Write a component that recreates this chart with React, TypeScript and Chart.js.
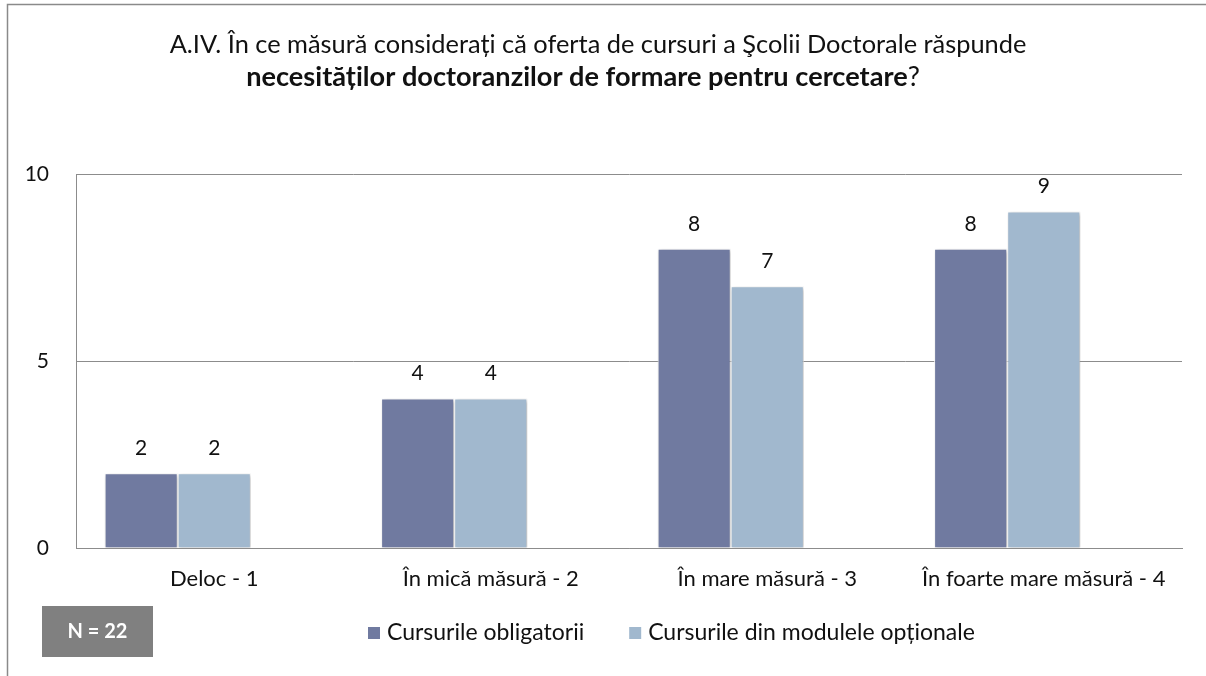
import React, { useEffect, useRef } from 'react';
import { Chart, registerables } from 'chart.js';

Chart.register(...registerables);

const categories = ['Deloc - 1', 'În mică măsură - 2', 'În mare măsură - 3', 'În foarte mare măsură - 4'];
const seriesNames = ['Cursurile obligatorii', 'Cursurile din modulele opționale'];
const obligatorii = [2, 4, 8, 8];
const optionale = [2, 4, 7, 9];
const emptySlot = [null, null, null, null];
const yTicks = [0, 5, 10];
const titleLine1 = 'A.IV. În ce măsură considerați că oferta de cursuri a Şcolii Doctorale răspunde';
const titleLine2Bold = 'necesităților doctoranzilor de formare pentru cercetare';
const titleLine2End = '?';
const noteText = 'N = 22';

const FONT = 'Lato, "Open Sans", sans-serif';
const DARK = '#707AA0';
const LIGHT = '#A1B8CE';
const GRID = '#8C8C8C';

const decorPlugin = {
  id: 'decor',
  beforeDraw(chart: any) {
    const ctx = chart.ctx;
    ctx.save();
    ctx.fillStyle = '#ffffff';
    ctx.fillRect(0, 0, chart.width, chart.height);
    ctx.strokeStyle = '#8A8A8A';
    ctx.lineWidth = 1.5;
    ctx.strokeRect(7.5, 4.5, chart.width + 20, chart.height + 20);
    ctx.restore();
  },
  beforeDatasetDraw(chart: any) {
    const ctx = chart.ctx;
    ctx.save();
    ctx.shadowColor = 'rgba(0,0,0,0.28)';
    ctx.shadowBlur = 4;
    ctx.shadowOffsetX = 1.5;
    ctx.shadowOffsetY = 1.5;
  },
  afterDatasetDraw(chart: any) {
    chart.ctx.restore();
  },
  afterDatasetsDraw(chart: any) {
    const ctx = chart.ctx;
    ctx.save();
    ctx.fillStyle = '#111';
    ctx.font = `21px ${FONT}`;
    ctx.textAlign = 'center';
    ctx.textBaseline = 'middle';
    chart.data.datasets.forEach((ds: any, i: number) => {
      if (!ds.label) return;
      const meta = chart.getDatasetMeta(i);
      meta.data.forEach((el: any, j: number) => {
        if (ds.data[j] == null) return;
        ctx.fillText(String(ds.data[j]), el.x, el.y - 25);
      });
    });
    ctx.restore();
  },
  afterDraw(chart: any) {
    const ctx = chart.ctx;
    ctx.save();
    ctx.fillStyle = '#111';
    ctx.textBaseline = 'alphabetic';
    ctx.font = `24px ${FONT}`;
    const w0 = ctx.measureText(titleLine1).width;
    const size = (24 * 857) / w0;
    ctx.font = `${size}px ${FONT}`;
    ctx.textAlign = 'center';
    ctx.fillText(titleLine1, 598, 53);
    ctx.textAlign = 'left';
    ctx.font = `bold 24px ${FONT}`;
    const wb0 = ctx.measureText(titleLine2Bold).width;
    ctx.font = `24px ${FONT}`;
    const we0 = ctx.measureText(titleLine2End).width;
    const size2 = (24 * 674) / (wb0 + we0);
    ctx.font = `bold ${size2}px ${FONT}`;
    const wb = ctx.measureText(titleLine2Bold).width;
    ctx.font = `${size2}px ${FONT}`;
    const we = ctx.measureText(titleLine2End).width;
    const x2 = 583 - (wb + we) / 2;
    ctx.font = `bold ${size2}px ${FONT}`;
    ctx.fillText(titleLine2Bold, x2, 86);
    ctx.font = `${size2}px ${FONT}`;
    ctx.fillText(titleLine2End, x2 + wb, 86);

    ctx.fillStyle = '#808080';
    ctx.fillRect(42, 606, 111, 51);
    ctx.fillStyle = '#ffffff';
    ctx.font = `bold 20px ${FONT}`;
    ctx.textAlign = 'center';
    ctx.textBaseline = 'middle';
    ctx.fillText(noteText, 97.5, 632);

    ctx.font = `23px ${FONT}`;
    ctx.textAlign = 'left';
    let x = 368;
    chart.data.datasets.forEach((ds: any) => {
      if (!ds.label) return;
      ctx.fillStyle = ds.backgroundColor;
      ctx.fillRect(x, 627, 12, 12);
      ctx.fillStyle = '#111';
      ctx.fillText(ds.label, x + 19, 633);
      x += 19 + ctx.measureText(ds.label).width + 45;
    });
    ctx.restore();
  },
};

export default function App() {
  const ref = useRef<HTMLCanvasElement | null>(null);
  useEffect(() => {
    document.body.style.margin = '0';
    const canvas = ref.current;
    if (!canvas) return;
    const barOpts = {
      borderColor: '#ffffff',
      borderWidth: 1,
      categoryPercentage: 0.793,
      barPercentage: 1,
    };
    const chart = new Chart(canvas, {
      type: 'bar',
      data: {
        labels: categories,
        datasets: [
          { label: seriesNames[0], data: obligatorii, backgroundColor: DARK, ...barOpts },
          { label: seriesNames[1], data: optionale, backgroundColor: LIGHT, ...barOpts },
          { label: '', data: emptySlot, backgroundColor: 'rgba(0,0,0,0)', ...barOpts, borderWidth: 0 },
        ],
      },
      options: {
        animation: false,
        responsive: false,
        devicePixelRatio: 1,
        layout: { padding: { left: 0, right: 24, top: 174, bottom: 0 } },
        plugins: {
          legend: { display: false },
          title: { display: false },
          tooltip: { enabled: false },
        },
        scales: {
          x: {
            grid: { display: false, drawTicks: false },
            border: { display: true, color: GRID, width: 1 },
            ticks: {
              color: '#111',
              font: { family: FONT, size: 22 },
              padding: 18,
              maxRotation: 0,
              autoSkip: false,
            },
            afterFit: (scale: any) => {
              scale.height = 128;
            },
          },
          y: {
            min: 0,
            max: 10,
            afterBuildTicks: (scale: any) => {
              scale.ticks = yTicks.map((v) => ({ value: v }));
            },
            grid: { color: GRID, lineWidth: 1, drawTicks: false },
            border: { display: true, color: GRID, width: 1 },
            ticks: {
              color: '#111',
              font: { family: FONT, size: 21 },
              padding: 27,
            },
            afterFit: (scale: any) => {
              scale.width = 76;
            },
          },
        },
      },
      plugins: [decorPlugin],
    });
    return () => chart.destroy();
  }, []);
  return (
    <div style={{ width: 1206, height: 676, overflow: 'hidden' }}>
      <canvas ref={ref} width={1206} height={676} style={{ display: 'block' }} />
    </div>
  );
}
